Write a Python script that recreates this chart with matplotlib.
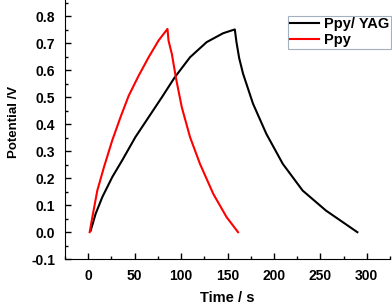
import matplotlib
matplotlib.use('Agg')
import matplotlib.pyplot as plt
from matplotlib.ticker import MultipleLocator

plt.rcParams['font.family'] = ['Liberation Sans', 'DejaVu Sans']
plt.rcParams['font.weight'] = 'bold'

# Ppy/YAG: charge then discharge (time s, potential V)
t_yag = [2.6, 7.9, 15.1, 25.8, 36.5, 50.7, 65, 79.3, 92.8, 109.6, 127.5, 145.3, 157.8,
         159.6, 162.5, 166.7, 177.4, 191.8, 209.5, 230.9, 256, 289.8]
v_yag = [0.006, 0.068, 0.13, 0.204, 0.266, 0.352, 0.426, 0.5, 0.572, 0.648, 0.704, 0.737, 0.751,
         0.704, 0.645, 0.587, 0.476, 0.364, 0.253, 0.154, 0.08, 0.0]

# Ppy
t_ppy = [1.5, 4.4, 9.7, 16.8, 25.8, 34.7, 43.6, 54.3, 65, 75.7, 85.3,
         86.4, 90, 94.6, 100.7, 109.6, 120.3, 134.6, 148.9, 161.3]
v_ppy = [0.0, 0.056, 0.154, 0.24, 0.34, 0.426, 0.506, 0.58, 0.648, 0.71, 0.753,
         0.71, 0.66, 0.568, 0.463, 0.352, 0.253, 0.142, 0.056, 0.0]

fig = plt.figure(figsize=(3.92, 3.06), dpi=100)
ax = fig.add_axes([0.166, 0.153, 0.829, 0.847])

ax.plot(t_yag, v_yag, color='black', lw=1.5, label='Ppy/ YAG')
ax.plot(t_ppy, v_ppy, color='#ff0000', lw=1.5, label='Ppy')

ax.set_xlim(-25, 325)
ax.set_ylim(-0.1, 0.86)
ax.xaxis.set_major_locator(MultipleLocator(50))
ax.xaxis.set_minor_locator(MultipleLocator(25))
ax.yaxis.set_minor_locator(MultipleLocator(0.05))
ax.set_yticks([-0.1, 0, 0.1, 0.2, 0.3, 0.4, 0.5, 0.6, 0.7, 0.8])
ax.set_yticklabels(['-0.1', '0.0', '0.1', '0.2', '0.3', '0.4', '0.5', '0.6', '0.7', '0.8'])

ax.spines['top'].set_visible(False)
ax.spines['right'].set_visible(False)
ax.tick_params(which='major', direction='in', length=4, width=1, labelsize=10)
ax.tick_params(which='minor', direction='in', length=2, width=1)
ax.tick_params(axis='x', pad=7)
ax.tick_params(axis='y', pad=7)

ax.set_xlabel('Time / s', fontsize=10.5, fontweight='bold', labelpad=6)
ax.set_ylabel('Potential /V', fontsize=9.5, fontweight='bold')
ax.yaxis.set_label_coords(-0.138, 0.529)

leg = ax.legend(loc='upper left', bbox_to_anchor=(0.735, 0.949), bbox_transform=fig.transFigure,
                fontsize=10.5, frameon=True, fancybox=False, edgecolor='#8c9cad',
                handlelength=2.0, borderpad=0.1, borderaxespad=0,
                labelspacing=0.15, handletextpad=0.35)
leg.get_frame().set_linewidth(0.8)

fig.savefig('out.png', dpi=100)
